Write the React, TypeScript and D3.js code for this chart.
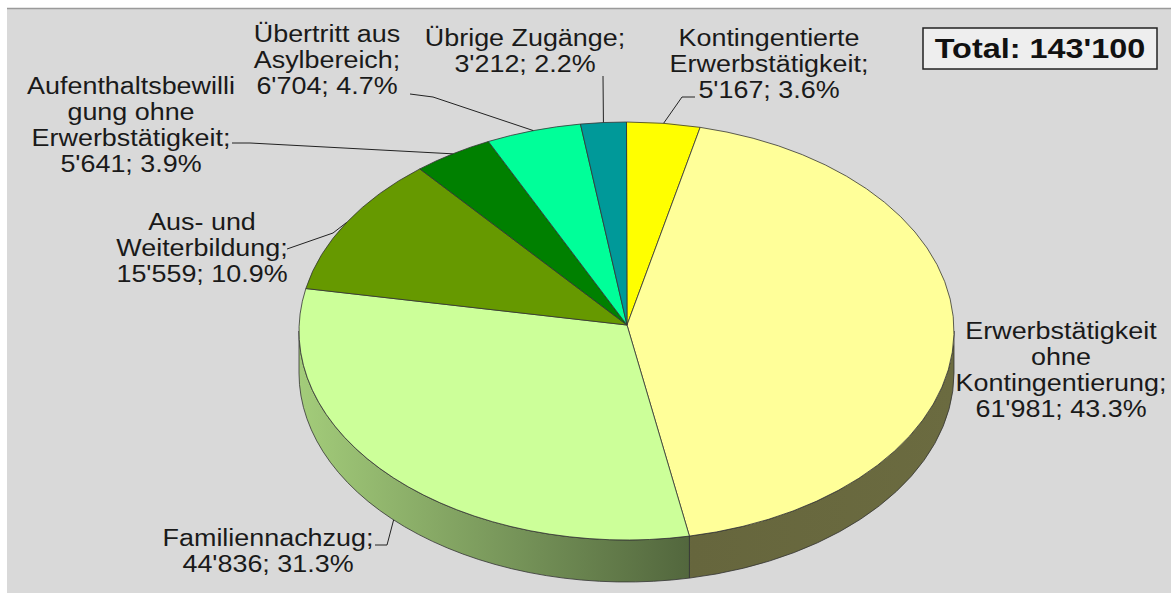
import React from "react";
import * as d3 from "d3";

const categories = [
  "Kontingentierte Erwerbstätigkeit",
  "Erwerbstätigkeit ohne Kontingentierung",
  "Familiennachzug",
  "Aus- und Weiterbildung",
  "Aufenthaltsbewilligung ohne Erwerbstätigkeit",
  "Übertritt aus Asylbereich",
  "Übrige Zugänge",
];
const values = [5167, 61981, 44836, 15559, 5641, 6704, 3212];
const labelLines = [
  ["Kontingentierte", "Erwerbstätigkeit;"],
  ["Erwerbstätigkeit", "ohne", "Kontingentierung;"],
  ["Familiennachzug;"],
  ["Aus- und", "Weiterbildung;"],
  ["Aufenthaltsbewilli", "gung ohne", "Erwerbstätigkeit;"],
  ["Übertritt aus", "Asylbereich;"],
  ["Übrige Zugänge;"],
];
const colors = ["#ffff00", "#ffff99", "#ccff99", "#669900", "#008000", "#00ff99", "#009999"];

// layout
const W = 1171, H = 595;
const CX = 626.5, CY = 331, RX = 327.5, RY = 209, DEPTH = 42;
const APEX: [number, number] = [627, 325];
const labelPos: [number, number][] = [
  [769, 46], [1061, 339], [268, 546], [202, 230], [131, 94], [327, 42], [525, 46],
];
const leaderPts: ([number, number][] | null)[] = [
  [[695, 97], [682, 97]],
  null,
  [[375, 545], [387, 545]],
  [[287, 249], [333, 233]],
  [[232, 143], [250, 143]],
  [[410, 94], [433, 97]],
  [[603, 76]],
];
const LINE_H = 26;
const SX = 1.17;

const locale = d3.formatLocale({ decimal: ".", thousands: "'", grouping: [3], currency: ["", ""] });
const fmtNum = locale.format(",d");
const fmtPct = d3.format(".1f");

const pt = (a: number, dy = 0): [number, number] => [CX + RX * Math.sin(a), CY - RY * Math.cos(a) + dy];

function shade(color: string, f: number) {
  const c = d3.rgb(color);
  return d3.rgb(c.r * f, c.g * f, c.b * f).formatHex();
}
const shadeStops = [
  [0, 0.8],
  [0.3, 0.6],
  [0.6, 0.4],
  [1, 0.42],
];

export default function App() {
  const total = d3.sum(values);
  const pie = d3.pie<number>().sort(null).value((d) => d);
  const arcs = pie(values);

  const topPath = (s: number, e: number) => {
    const [x0, y0] = pt(s);
    const [x1, y1] = pt(e);
    const large = e - s > Math.PI ? 1 : 0;
    return `M${APEX[0]},${APEX[1]}L${x0},${y0}A${RX},${RY} 0 ${large} 1 ${x1},${y1}Z`;
  };
  const sidePath = (s: number, e: number) => {
    const a0 = Math.max(s, Math.PI / 2);
    const a1 = Math.min(e, (3 * Math.PI) / 2);
    if (a1 <= a0) return null;
    const [x0, y0] = pt(a0);
    const [x1, y1] = pt(a1);
    const [bx0, by0] = pt(a0, DEPTH);
    const [bx1, by1] = pt(a1, DEPTH);
    return `M${x0},${y0}A${RX},${RY} 0 0 1 ${x1},${y1}L${bx1},${by1}A${RX},${RY} 0 0 0 ${bx0},${by0}Z`;
  };

  return (
    <svg width={W} height={H} style={{ position: "absolute", left: 0, top: 0 }} fontFamily="'Liberation Sans', Arial, sans-serif">
      <defs>
        {arcs.map((a, i) => (
          <linearGradient key={i} id={`side${i}`} gradientUnits="userSpaceOnUse" x1={CX - RX} x2={CX + RX} y1={0} y2={0}>
            {shadeStops.map(([o, f], j) => (
              <stop key={j} offset={o} stopColor={shade(colors[i], f)} />
            ))}
          </linearGradient>
        ))}
      </defs>
      <rect x={0} y={0} width={W} height={H} fill="#ffffff" />
      <rect x={7} y={8} width={W - 7} height={585} fill="#d9d9d9" />
      <line x1={7} x2={W} y1={8.5} y2={8.5} stroke="#9a9a9a" strokeWidth={1.5} />

      {/* sides */}
      {arcs.map((a, i) => {
        const d = sidePath(a.startAngle, a.endAngle);
        return d ? <path key={i} d={d} fill={`url(#side${i})`} stroke="#333" strokeWidth={0.8} /> : null;
      })}
      {/* tops */}
      {arcs.map((a, i) => (
        <path key={i} d={topPath(a.startAngle, a.endAngle)} fill={colors[i]} stroke="#333" strokeWidth={0.8} strokeLinejoin="round" />
      ))}

      {/* leader lines */}
      {arcs.map((a, i) => {
        const pts = leaderPts[i];
        if (!pts) return null;
        const mid = (a.startAngle + a.endAngle) / 2;
        const onFront = Math.cos(mid) < -0.3;
        const end = pt(mid, onFront ? DEPTH : 0);
        const line = d3.line()([...pts, end]);
        return <path key={i} d={line || ""} fill="none" stroke="#222" strokeWidth={1} />;
      })}

      {/* labels */}
      {arcs.map((a, i) => {
        const [lx, ly] = labelPos[i];
        const lines = [...labelLines[i], `${fmtNum(values[i])}; ${fmtPct((values[i] / total) * 100)}%`];
        return (
          <g key={i} transform={`translate(${lx},${ly}) scale(${SX},1)`}>
            <text textAnchor="middle" fontSize={23} fill="#1a1a1a">
              {lines.map((l, j) => (
                <tspan key={j} x={0} y={j * LINE_H}>
                  {l}
                </tspan>
              ))}
            </text>
          </g>
        );
      })}

      {/* total box */}
      <rect x={923} y={28} width={234} height={41} fill="#eeeeee" stroke="#222" strokeWidth={1.5} />
      <g transform={`translate(1040,58) scale(1.2,1)`}>
        <text textAnchor="middle" fontSize={27} fontWeight="bold" fill="#111">
          {`Total: ${fmtNum(total)}`}
        </text>
      </g>
    </svg>
  );
}
